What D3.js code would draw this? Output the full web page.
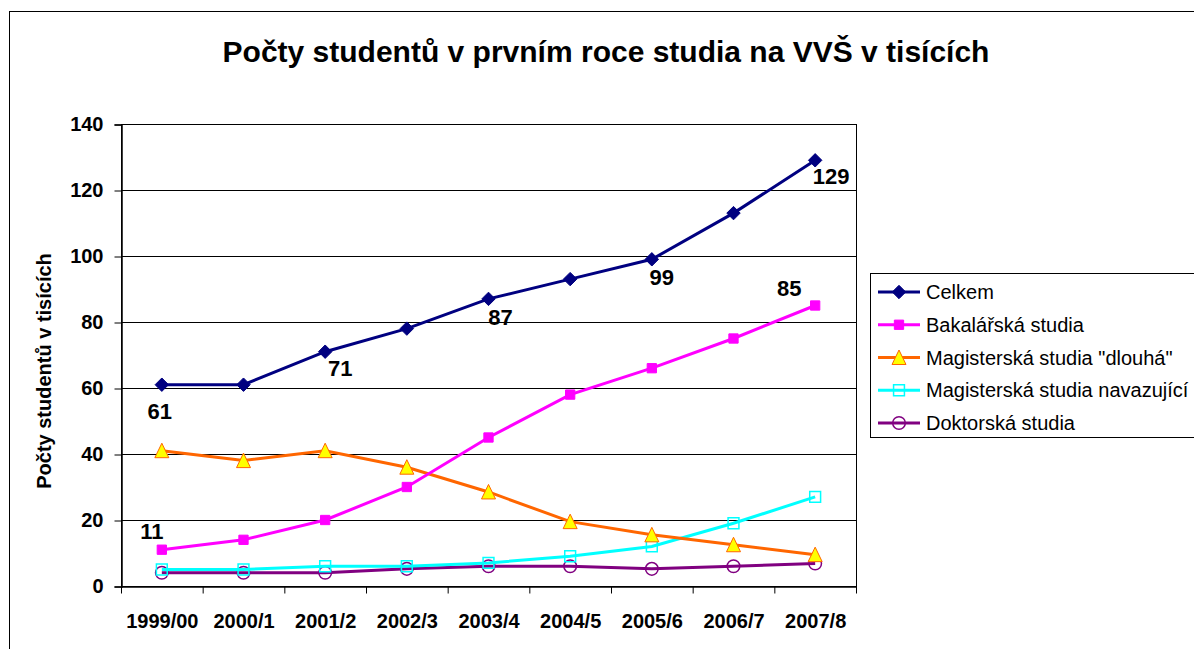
<!DOCTYPE html>
<html>
<head>
<meta charset="utf-8">
<script src="https://cdn.jsdelivr.net/npm/d3@7"></script>
<style>
  body { margin: 0; background: #fff; }
  svg { display: block; font-family: Arial, "Liberation Sans", sans-serif; }
</style>
</head>
<body>
<div id="chart"></div>
<script>
// data (thousands of students)
var years = ['1999/00', '2000/1', '2001/2', '2002/3', '2003/4', '2004/5', '2005/6', '2006/7', '2007/8'];
var celkem = [61, 61, 71, 78, 87, 93, 99, 113, 129];
var bakalarska = [11, 14, 20, 30, 45, 58, 66, 75, 85];
var magDlouha = [41, 38, 41, 36, 28.5, 19.5, 15.5, 12.5, 9.5];
var magNavaz = [5, 5, 6, 6, 7, 9, 12, 19, 27];
var doktorska = [4, 4, 4, 5.2, 6, 6, 5.2, 6, 6.8];
var yTicks = [0, 20, 40, 60, 80, 100, 120, 140];
var seriesNames = ['Celkem', 'Bakalářská studia', 'Magisterská studia "dlouhá"', 'Magisterská studia navazující', 'Doktorská studia'];
// which values get a number printed next to them: [series, index, dx, dy]
var valueLabels = [[0, 0, -2, 34], [0, 2, 15, 24], [0, 4, 12, 26], [0, 6, 10, 26], [0, 8, 16, 24], [1, 0, -10, -11], [1, 8, -26, -10]];

var W = 1194, H = 649;
var margin = { left: 121, top: 124, right: 856, bottom: 586 };

var svg = d3.select('#chart').append('svg')
  .attr('width', W)
  .attr('height', H);

// outer chart frame (runs off the page on the right and bottom)
svg.append('rect')
  .attr('x', 9.5).attr('y', 11.5)
  .attr('width', 1300).attr('height', 800)
  .attr('fill', '#fff').attr('stroke', '#000').attr('stroke-width', 1);

svg.append('text')
  .attr('x', 606).attr('y', 62)
  .attr('text-anchor', 'middle')
  .style('font-size', '30px').style('font-weight', 'bold')
  .text('Počty studentů v prvním roce studia na VVŠ v tisících');

var x = d3.scaleBand().domain(years).range([margin.left, margin.right]);
var y = d3.scaleLinear().domain([0, 140]).range([margin.bottom, margin.top]);
var xc = function (d) { return x(d) + x.bandwidth() / 2; };

// gridlines
svg.append('g').selectAll('line').data(yTicks).enter().append('line')
  .attr('x1', margin.left).attr('x2', margin.right)
  .attr('y1', function (d) { return Math.round(y(d)) + 0.5; })
  .attr('y2', function (d) { return Math.round(y(d)) + 0.5; })
  .attr('stroke', '#000').attr('stroke-width', 1);

// plot border
svg.append('rect')
  .attr('x', margin.left + 0.5).attr('y', margin.top + 0.5)
  .attr('width', margin.right - margin.left).attr('height', margin.bottom - margin.top)
  .attr('fill', 'none').attr('stroke', '#000').attr('stroke-width', 1);

// y axis
var yAxis = svg.append('g')
  .attr('transform', 'translate(' + (margin.left + 0.5) + ',0.5)')
  .call(d3.axisLeft(y).tickValues(yTicks).tickSize(7).tickPadding(11));
yAxis.select('.domain').attr('stroke-width', 1.5);
yAxis.selectAll('text')
  .style('font-size', '20px').style('font-weight', 'bold')
  .style('font-family', 'Arial, "Liberation Sans", sans-serif').attr('fill', '#000');

// x axis with ticks at band edges
var xAxis = svg.append('g')
  .attr('transform', 'translate(0.5,' + (margin.bottom + 0.5) + ')')
  .call(d3.axisBottom(x).tickSize(0).tickPadding(27));
xAxis.select('.domain').attr('stroke-width', 1.5);
xAxis.selectAll('text')
  .style('font-size', '20px').style('font-weight', 'bold')
  .style('font-family', 'Arial, "Liberation Sans", sans-serif').attr('fill', '#000');
var edges = years.map(function (d) { return x(d); }).concat([margin.right]);
xAxis.selectAll('line.edge').data(edges).enter().append('line')
  .attr('class', 'edge')
  .attr('x1', function (d) { return d; }).attr('x2', function (d) { return d; })
  .attr('y1', 0).attr('y2', 7)
  .attr('stroke', '#000').attr('stroke-width', 1);

svg.append('text')
  .attr('transform', 'translate(51,371) rotate(-90)')
  .attr('text-anchor', 'middle')
  .style('font-size', '20px').style('font-weight', 'bold')
  .text('Počty studentů v tisících');

var allSeries = [celkem, bakalarska, magDlouha, magNavaz, doktorska];
var styles = [
  { line: '#000080', marker: 'diamond', fill: '#000080', stroke: '#000080' },
  { line: '#FF00FF', marker: 'square', fill: '#FF00FF', stroke: '#FF00FF' },
  { line: '#FF6600', marker: 'triangle', fill: '#FFFF00', stroke: '#FF6600' },
  { line: '#00FFFF', marker: 'square', fill: 'none', stroke: '#00FFFF', open: true },
  { line: '#800080', marker: 'circle', fill: 'none', stroke: '#800080', open: true }
];

var symbolFor = function (st) {
  if (st.marker === 'diamond') { return d3.symbol().type(d3.symbolDiamond2).size(115)(); }
  if (st.marker === 'square') { return d3.symbol().type(d3.symbolSquare2).size(st.open ? 150 : 110)(); }
  if (st.marker === 'triangle') { return 'M0,-7.5L7,7L-7,7Z'; }
  return d3.symbol().type(d3.symbolCircle).size(125)();
};

var line = d3.line()
  .x(function (d, i) { return xc(years[i]); })
  .y(function (d) { return y(d); });

// draw bottom series first so the totals sit on top
[4, 3, 2, 1, 0].forEach(function (s) {
  var st = styles[s];
  var g = svg.append('g');
  g.append('path')
    .datum(allSeries[s])
    .attr('d', line)
    .attr('fill', 'none')
    .attr('stroke', st.line)
    .attr('stroke-width', 3);
  g.selectAll('path.m').data(allSeries[s]).enter().append('path')
    .attr('class', 'm')
    .attr('transform', function (d, i) {
      return 'translate(' + xc(years[i]) + ',' + y(d) + ')';
    })
    .attr('d', symbolFor(st))
    .attr('fill', st.fill)
    .attr('stroke', st.stroke)
    .attr('stroke-width', st.open ? 1.5 : 1);
});

// data labels
svg.append('g').selectAll('text').data(valueLabels).enter().append('text')
  .attr('x', function (d) { return xc(years[d[1]]) + d[2]; })
  .attr('y', function (d) { return y(allSeries[d[0]][d[1]]) + d[3]; })
  .attr('text-anchor', 'middle')
  .style('font-size', '22px').style('font-weight', 'bold')
  .text(function (d) { return Math.round(allSeries[d[0]][d[1]]); });

// legend
var legend = svg.append('g').attr('transform', 'translate(870,273)');
legend.append('rect')
  .attr('x', 0.5).attr('y', 0.5)
  .attr('width', 400).attr('height', 164)
  .attr('fill', '#fff').attr('stroke', '#000').attr('stroke-width', 1);
var items = legend.selectAll('g.item').data(seriesNames).enter().append('g')
  .attr('class', 'item')
  .attr('transform', function (d, i) { return 'translate(0,' + (19 + i * 32.75) + ')'; });
items.append('line')
  .attr('x1', 8).attr('x2', 50).attr('y1', 0).attr('y2', 0)
  .attr('stroke', function (d, i) { return styles[i].line; })
  .attr('stroke-width', 3);
items.append('path')
  .attr('transform', 'translate(29,0)')
  .attr('d', function (d, i) { return symbolFor(styles[i]); })
  .attr('fill', function (d, i) { return styles[i].fill; })
  .attr('stroke', function (d, i) { return styles[i].stroke; })
  .attr('stroke-width', function (d, i) { return styles[i].open ? 1.5 : 1; });
items.append('text')
  .attr('x', 56).attr('y', 7)
  .style('font-size', '20px')
  .text(function (d) { return d; });
</script>
</body>
</html>
